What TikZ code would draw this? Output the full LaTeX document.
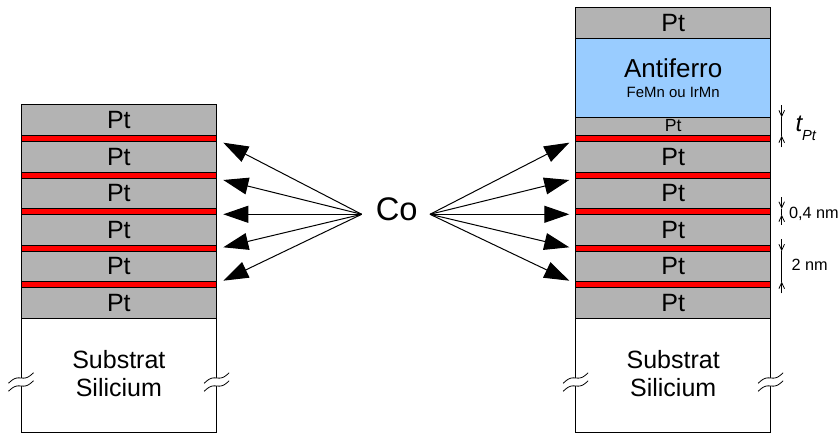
\documentclass[tikz,border=0pt]{standalone}
\usepackage{fontspec}
\setmainfont{Liberation Sans}
\usetikzlibrary{arrows.meta}
\definecolor{ptgray}{HTML}{B3B3B3}
\definecolor{cored}{HTML}{FF0000}
\definecolor{afblue}{HTML}{99CCFF}
\begin{document}
\begin{tikzpicture}[x=0.75pt,y=-0.75pt,line width=0.75pt,
  lay/.style={draw=black,fill=ptgray},
  colay/.style={draw=black,fill=cored},
  aflay/.style={draw=black,fill=afblue},
  sublay/.style={draw=black,fill=white},
  lbl/.style={anchor=base,inner sep=0pt,font=\fontsize{18.75}{21}\selectfont},
  sublbl/.style={inner sep=0pt,align=center,font=\fontsize{18.75}{21.3}\selectfont},
  smalllbl/.style={anchor=base west,inner sep=0pt,font=\fontsize{12.2}{14}\selectfont},
  coarrow/.style={-{Triangle[length=18.75pt,width=12.75pt]},line width=0.75pt},
  dimtip/.style={-{Straight Barb[length=4.5pt,width=4.2pt]},line width=0.6pt},
  dimline/.style={line width=0.6pt},
  brk/.pic={
    \fill[white] plot[domain=-12.5:12.5,samples=25] (\x,{-0.42*\x+2*sin(14.4*\x)-4})
      -- plot[domain=12.5:-12.5,samples=25] (\x,{-0.42*\x+2*sin(14.4*\x)+4}) -- cycle;
    \draw[line width=0.6pt] plot[domain=-12.5:12.5,samples=25,smooth] (\x,{-0.42*\x+2*sin(14.4*\x)-4});
    \draw[line width=0.6pt] plot[domain=-12.5:12.5,samples=25,smooth] (\x,{-0.42*\x+2*sin(14.4*\x)+4});
  }]
\useasboundingbox (0,0) rectangle (840,434);

% ---------- left stack ----------
\draw[sublay] (21,318.5) rectangle (216.7,432.7);
\foreach \t/\b in {104.5/135.7,141.7/172.2,178.2/208.7,214.7/245.2,251.2/281.7,287.7/318.5}
  \draw[lay] (21,\t) rectangle (216.7,\b);
\foreach \t in {135.7,172.2,208.7,245.2,281.7}
  \draw[colay] (21,\t) rectangle (216.7,\t+6);
\foreach \t [count=\i] in {104.5,141.7,178.2,214.7,251.2,287.7}
  \node[lbl] (lpt\i) at (118.85,\t+23.8) {Pt};
\node[sublbl] (lsub) at (118.85,373.3) {Substrat\\Silicium};
\pic at (21,382) {brk};
\pic at (216.7,382) {brk};

% ---------- right stack ----------
\draw[sublay] (575.7,318.5) rectangle (770.7,432.7);
\draw[lay] (575.7,7.3) rectangle (770.7,38.3);
\draw[aflay] (575.7,38.3) rectangle (770.7,117.3);
\draw[lay] (575.7,117.3) rectangle (770.7,135.7);
\foreach \t/\b in {141.7/172.2,178.2/208.7,214.7/245.2,251.2/281.7,287.7/318.5}
  \draw[lay] (575.7,\t) rectangle (770.7,\b);
\foreach \t in {135.7,172.2,208.7,245.2,281.7}
  \draw[colay] (575.7,\t) rectangle (770.7,\t+6);
\node[lbl] (rpt0) at (673.2,31.5) {Pt};
\node[anchor=base,inner sep=0pt,font=\fontsize{19.5}{22}\selectfont] (af) at (673.2,77.3) {Antiferro};
\node[anchor=base,inner sep=0pt,font=\fontsize{11.2}{13}\selectfont] (afm) at (673.2,97.3) {FeMn ou IrMn};
\node[anchor=base,inner sep=0pt,font=\fontsize{13.2}{15}\selectfont] (rthin) at (673.2,131.7) {Pt};
\foreach \t [count=\i] in {141.7,178.2,214.7,251.2,287.7}
  \node[lbl] (rpt\i) at (673.2,\t+23.8) {Pt};
\node[sublbl] (rsub) at (673.2,373.3) {Substrat\\Silicium};
\pic at (575.7,382) {brk};
\pic at (770.7,382) {brk};

% ---------- Co and arrows ----------
\node[anchor=base,inner sep=0pt,font=\fontsize{24.5}{28}\selectfont] (co) at (396.7,220.7) {Co};
\coordinate (cl) at (361.7,214.3);
\coordinate (cr) at (430,214.3);
\foreach \y [count=\i] in {142.7,180,214.3,247.3,280.7}{
  \coordinate (tl\i) at (223.3,\y);
  \coordinate (tr\i) at (569.3,\y);
  \draw[coarrow] (cl) -- (tl\i);
  \draw[coarrow] (cr) -- (tr\i);
}

% ---------- dimensions ----------
\coordinate (d1a) at (781.7,105.5);
\coordinate (d1b) at (781.7,117.3);
\coordinate (d1c) at (781.7,135.7);
\coordinate (d1d) at (781.7,147.5);
\draw[dimtip] (d1a) -- (d1b);
\draw[dimline] (d1b) -- (d1c);
\draw[dimtip] (d1d) -- (d1c);
\node[anchor=base west,inner sep=0pt,font=\fontsize{18}{20}\selectfont\itshape] (tpt) at (795,131.7)
  {t\raisebox{-6.75pt}{\fontsize{11}{12}\selectfont Pt}};

\coordinate (d2a) at (781.7,197.2);
\coordinate (d2b) at (781.7,208.7);
\coordinate (d2c) at (781.7,214.7);
\coordinate (d2d) at (781.7,225);
\draw[dimtip] (d2a) -- (d2b);
\draw[dimline] (d2b) -- (d2c);
\draw[dimtip] (d2d) -- (d2c);
\node[smalllbl] (d2t) at (788.5,218.3) {0,4 nm};

\coordinate (d3a) at (781.7,239.5);
\coordinate (d3b) at (781.7,251.2);
\coordinate (d3c) at (781.7,281.7);
\coordinate (d3d) at (781.7,293.5);
\draw[dimtip] (d3a) -- (d3b);
\draw[dimline] (d3b) -- (d3c);
\draw[dimtip] (d3d) -- (d3c);
\node[smalllbl] (d3t) at (791,270.7) {2 nm};
\end{tikzpicture}
\end{document}
